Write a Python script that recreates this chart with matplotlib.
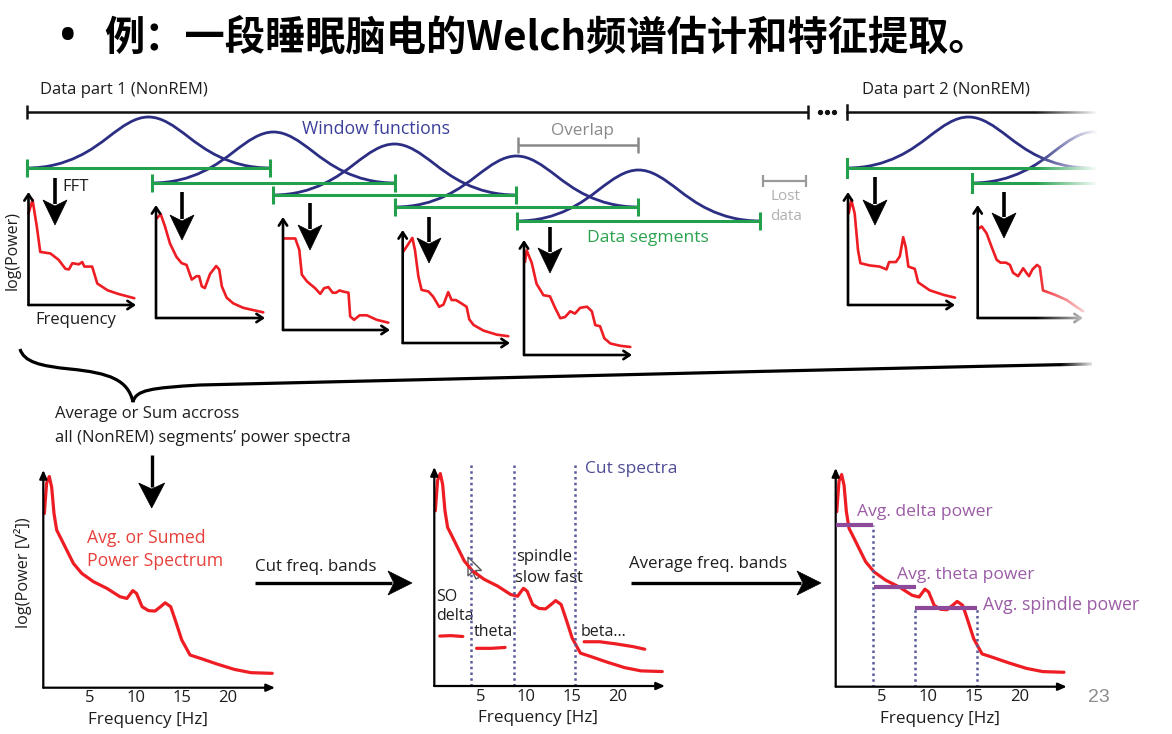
import numpy as np
import matplotlib
matplotlib.use("Agg")
import matplotlib.pyplot as plt
from matplotlib.path import Path
from matplotlib.patches import PathPatch, Polygon

W, H = 1172, 734

# ------------------------------------------------------------------ data
title_text = "例：一段睡眠脑电的Welch频谱估计和特征提取。"

# single-segment spectra (frequency in Hz, relative log power 0..1)
seg1_freq = [0.0, 0.94, 1.95, 2.73, 5.1, 7.0, 8.6, 9.4, 10.2, 11.7, 12.5, 13.0, 14.8, 16.0, 18.4, 20.7, 24.6]
seg1_pow = [0.81, 0.93, 0.69, 0.47, 0.456, 0.40, 0.32, 0.315, 0.37, 0.36, 0.38, 0.34, 0.34, 0.19, 0.13, 0.10, 0.06]

seg2_freq = [0.15, 1.07, 2.06, 3.2, 4.7, 5.9, 7.0, 8.2, 9.3, 9.9, 10.5, 11.2, 12.4, 13.8, 14.5, 15.1, 16.2, 17.7, 20.0, 24.6]
seg2_pow = [0.88, 0.92, 0.81, 0.66, 0.54, 0.485, 0.47, 0.34, 0.37, 0.37, 0.28, 0.265, 0.39, 0.46, 0.43, 0.28, 0.18, 0.13, 0.09, 0.05]

seg3_freq = [0.08, 2.87, 3.8, 4.4, 5.6, 7.5, 8.7, 9.6, 10.6, 11.6, 12.4, 13.2, 14.1, 15.3, 15.7, 16.6, 17.9, 19.6, 21.9, 24.6]
seg3_pow = [0.81, 0.81, 0.71, 0.49, 0.43, 0.37, 0.32, 0.37, 0.38, 0.33, 0.33, 0.35, 0.34, 0.33, 0.12, 0.09, 0.13, 0.13, 0.09, 0.065]

seg4_freq = [0.16, 2.25, 2.87, 3.65, 4.4, 6.0, 7.1, 8.5, 9.5, 10.6, 11.4, 12.4, 13.7, 14.9, 15.5, 16.5, 18.8, 21.9, 24.6]
seg4_pow = [0.81, 0.93, 0.82, 0.59, 0.47, 0.456, 0.41, 0.32, 0.34, 0.45, 0.38, 0.38, 0.35, 0.32, 0.21, 0.16, 0.11, 0.074, 0.06]

seg5_freq = [0.23, 0.62, 1.8, 2.9, 4.5, 6.0, 7.2, 8.4, 9.5, 10.7, 11.8, 13.0, 14.6, 15.7, 16.5, 17.6, 18.6, 20.0, 22.3, 24.6]
seg5_pow = [0.81, 0.91, 0.80, 0.62, 0.52, 0.51, 0.41, 0.32, 0.33, 0.38, 0.36, 0.41, 0.42, 0.38, 0.26, 0.25, 0.145, 0.10, 0.08, 0.07]

seg6_freq = [0.16, 0.78, 1.56, 2.34, 2.9, 5.1, 7.4, 9.0, 9.6, 11.2, 12.1, 12.9, 13.5, 14.1, 15.6, 16.4, 19.1, 22.3, 25.0]
seg6_pow = [0.81, 0.93, 0.81, 0.485, 0.37, 0.35, 0.34, 0.315, 0.38, 0.38, 0.43, 0.60, 0.51, 0.34, 0.32, 0.20, 0.13, 0.09, 0.065]

seg7_freq = [0.16, 0.95, 2.1, 3.3, 4.5, 5.4, 6.7, 7.65, 8.4, 9.6, 10.8, 11.75, 12.2, 13.0, 14.1, 14.75, 15.5, 18.3, 21.1, 23.4, 25.0]
seg7_pow = [0.79, 0.81, 0.75, 0.63, 0.515, 0.49, 0.49, 0.47, 0.40, 0.37, 0.44, 0.39, 0.37, 0.43, 0.47, 0.45, 0.244, 0.206, 0.16, 0.10, 0.06]

# averaged spectrum
avg_freq = [0.11, 0.36, 0.65, 0.91, 1.16, 1.45, 2.0, 2.54, 3.26, 4.17, 5.43, 6.9, 8.3, 9.06, 9.7, 10.1,
            10.7, 11.4, 12.1, 12.7, 13.2, 13.8, 14.3, 15.0, 15.9, 17.0, 18.8, 20.7, 22.5, 24.8]
avg_pow = [0.80, 0.94, 0.97, 0.92, 0.80, 0.724, 0.678, 0.632, 0.571, 0.525, 0.487, 0.456, 0.418, 0.41, 0.446, 0.433,
           0.372, 0.354, 0.352, 0.372, 0.39, 0.372, 0.31, 0.219, 0.15, 0.135, 0.109, 0.084, 0.069, 0.066]

freq_ticks = [5, 10, 15, 20]
band_edges = [4.0, 8.65, 15.3]

# hand-drawn band marks in the "cut" panel
delta_mark_f, delta_mark_p = [0.6, 1.8, 3.1], [0.228, 0.23, 0.226]
theta_mark_f, theta_mark_p = [4.6, 6.2, 7.7], [0.172, 0.172, 0.176]
beta_mark_f, beta_mark_p = [16.3, 18.0, 19.8, 21.6, 22.9], [0.202, 0.202, 0.192, 0.180, 0.168]

# averaged band powers (relative log power)
band_avg_names = ["delta", "theta", "spindle"]
band_avg_lo = [0.0, 4.2, 8.65]
band_avg_hi = [4.0, 8.75, 15.3]
band_avg_pow = [0.74, 0.457, 0.36]

# ------------------------------------------------------------------ style
FONT = ['Open Sans', 'DejaVu Sans']
CJK = ['Noto Sans CJK SC', 'DejaVu Sans']
RED = '#ee1d23'
NAVY = '#2b2e83'
GREEN = '#22a04b'
TXT = '#1e1e1e'
DOT = '#5a5a9c'
PURPLE_BAR = '#8e4a9a'
PURPLE_TXT = '#9b5ca6'

fig = plt.figure(figsize=(W / 100, H / 100), dpi=100)
ax = fig.add_axes([0, 0, 1, 1])
ax.set_xlim(0, W)
ax.set_ylim(H, 0)
ax.axis('off')


def txt(x, y, s, size=12, color=TXT, ha='left', va='center', **kw):
    ax.text(x, y, s, fontsize=size, color=color, ha=ha, va=va, family=kw.pop('family', FONT), **kw)


def bracket(x0, x1, y, color, lw, tick):
    ax.plot([x0, x1], [y, y], color=color, lw=lw, solid_capstyle='butt')
    for xx in (x0, x1):
        ax.plot([xx, xx], [y - tick, y + tick], color=color, lw=lw, solid_capstyle='butt')


def down_arrow(x, y0, y1, hw=12, hl=25, lw=2.6):
    ax.plot([x, x], [y0, y1 - hl + 4], color='k', lw=lw, solid_capstyle='butt')
    ax.add_patch(Polygon([[x - hw, y1 - hl], [x, y1 - hl + 6], [x + hw, y1 - hl], [x, y1]],
                         closed=True, facecolor='k', edgecolor='k', lw=0.5))


def right_arrow(x0, x1, y, hw=12, hl=24, lw=2.4):
    ax.plot([x0, x1 - hl + 4], [y, y], color='k', lw=lw, solid_capstyle='butt')
    ax.add_patch(Polygon([[x1 - hl, y - hw], [x1 - hl + 6, y], [x1 - hl, y + hw], [x1, y]],
                         closed=True, facecolor='k', edgecolor='k', lw=0.5))


# bell-shaped window glyph (cubic Bezier, normalized)
BELL = [(0, 0), (0.17, 0), (0.275, 0.387), (0.335, 0.607), (0.395, 0.827), (0.445, 1.0), (0.5, 1.0),
        (0.555, 1.0), (0.605, 0.827), (0.665, 0.607), (0.725, 0.387), (0.83, 0), (1, 0)]
BELL_CODES = [Path.MOVETO] + [Path.CURVE4] * 12


def window(x0, base, width=243, height=51):
    verts = [(x0 + t * width, base - h * height) for t, h in BELL]
    ax.add_patch(PathPatch(Path(verts, BELL_CODES), facecolor='none', edgecolor=NAVY, lw=2.0))


# ------------------------------------------------------------------ title
ax.text(68, 39, '•', fontsize=30, fontweight='bold', ha='center', va='center', family=FONT, color='black')
ax.text(104, 38, title_text, fontsize=29, fontweight='heavy', family=CJK, ha='left', va='center', color='black')

# ------------------------------------------------------------------ top row
txt(40, 90, 'Data part 1 (NonREM)')
txt(862, 90, 'Data part 2 (NonREM)')
bracket(27, 808, 112, '#111111', 1.8, 7)
ax.plot([847, 1098], [112, 112], color='#111111', lw=1.8)
ax.plot([847, 847], [105, 119], color='#111111', lw=1.8)
ax.plot([820, 827, 834], [112, 112, 112], 'o', color='#111111', ms=2.8)

seg_starts = [27, 152, 273, 395, 517]
seg_bases = [168, 183, 195, 207, 221]
for x0, b in zip(seg_starts, seg_bases):
    window(x0, b)
    bracket(x0, x0 + 243, b, GREEN, 2.2, 9)

window(847, 168)
window(972, 183)
ax.plot([847, 1098], [168, 168], color=GREEN, lw=2.2)
ax.plot([847, 847], [159, 177], color=GREEN, lw=2.2)
ax.plot([972, 1098], [183, 183], color=GREEN, lw=2.2)
ax.plot([972, 972], [174, 192], color=GREEN, lw=2.2)

txt(302, 129, 'Window functions', 12.7, color='#3b3f9a')
bracket(518, 638, 145, '#8a8a8a', 1.8, 8)
txt(582, 131, 'Overlap', 12.3, color='#8a8a8a', ha='center')
bracket(763, 806, 181, '#9a9a9a', 1.6, 6)
txt(786, 196, 'Lost', 11, color='#b0b0b0', ha='center')
txt(786, 217, 'data', 11, color='#b0b0b0', ha='center')
txt(587, 238, 'Data segments', 12.6, color='#2ca24f')
txt(62, 187, 'FFT', 12)

for x, y0, y1 in [(55, 178, 225), (182, 192, 240), (310, 203, 250), (429, 217, 263),
                  (550, 227, 273), (875, 177, 225), (1004, 192, 238)]:
    down_arrow(x, y0, y1)


def small_spec(box, freq, powr):
    left, top, right, bottom = box
    a = fig.add_axes([left / W, 1 - bottom / H, (right - left) / W, (bottom - top) / H])
    a.set_xlim(0, 25)
    a.set_ylim(0, 1)
    a.axis('off')
    a.plot(freq, powr, color=RED, lw=1.9, solid_joinstyle='round', solid_capstyle='round', clip_on=False)
    ap = dict(arrowstyle='->,head_length=0.45,head_width=0.3', lw=1.9, color='k', shrinkA=0, shrinkB=0)
    a.annotate('', xy=(1, 0), xytext=(0, 0), xycoords='axes fraction', arrowprops=ap)
    a.annotate('', xy=(0, 1), xytext=(0, 0), xycoords='axes fraction', arrowprops=ap)
    return a


small_spec((28.5, 192, 136, 305), seg1_freq, seg1_pow)
small_spec((156, 205, 265, 318), seg2_freq, seg2_pow)
small_spec((283, 217, 390, 330), seg3_freq, seg3_pow)
small_spec((402.7, 230, 510, 343), seg4_freq, seg4_pow)
small_spec((524, 240, 632, 355), seg5_freq, seg5_pow)
small_spec((848, 192, 955, 305), seg6_freq, seg6_pow)
small_spec((977.7, 205, 1083, 318), seg7_freq, seg7_pow)

txt(13, 250, 'log(Power)', 11.5, ha='center', rotation=90)
txt(35, 320, 'Frequency', 12)

# ------------------------------------------------------------------ brace
brace_v = [(20, 349), (24, 362), (40, 366), (70, 369),
           (110, 373), (128, 380), (133, 402),
           (136, 390), (150, 388), (200, 385),
           (500, 378), (800, 370), (1092, 364)]
brace_c = [Path.MOVETO] + [Path.CURVE4] * 12
ax.add_patch(PathPatch(Path(brace_v, brace_c), facecolor='none', edgecolor='k', lw=2.3))

txt(55, 414, 'Average or Sum accross', 12)
txt(55, 438, 'all (NonREM) segments\u2019 power spectra', 12)
down_arrow(151.7, 455, 508, hw=13, hl=25, lw=2.4)


# ------------------------------------------------------------------ bottom row
def big_spec(box):
    left, top, right, bottom = box
    a = fig.add_axes([left / W, 1 - bottom / H, (right - left) / W, (bottom - top) / H])
    a.set_xlim(0, 25.1)
    a.set_ylim(0, 1)
    for s in a.spines.values():
        s.set_visible(False)
    a.patch.set_visible(False)
    a.set_xticks(freq_ticks)
    a.set_xticklabels([str(t) for t in freq_ticks], fontsize=12, family=FONT, color=TXT)
    a.tick_params(axis='x', length=0, pad=2)
    a.set_yticks([])
    ap = dict(arrowstyle='-|>,head_length=0.5,head_width=0.22', lw=1.6, color='k', shrinkA=0, shrinkB=0)
    a.annotate('', xy=(1, 0), xytext=(0, 0), xycoords='axes fraction', arrowprops=ap)
    a.annotate('', xy=(0, 1), xytext=(0, 0), xycoords='axes fraction', arrowprops=ap)
    a.plot(avg_freq, avg_pow, color=RED, lw=2.3, solid_joinstyle='round', solid_capstyle='round', clip_on=False)
    a.text(0.45, -0.148, 'Frequency [Hz]', transform=a.transAxes, ha='center', va='center',
           fontsize=12.3, family=FONT, color=TXT)
    return a


axA = big_spec((43.3, 470, 275, 687.7))
axA.text(-0.088, 0.527, 'log(Power [V\u00b2])', transform=axA.transAxes, rotation=90,
         ha='center', va='center', fontsize=11.7, family=FONT, color=TXT)
txt(87, 538, 'Avg. or Sumed', 12.7, color='#e8413c')
txt(87, 561, 'Power Spectrum', 12.7, color='#e8413c')

txt(255, 567, 'Cut freq. bands', 12.2)
right_arrow(255, 412, 583)

axB = big_spec((434.3, 467, 665, 686))
for f in band_edges:
    axB.plot([f, f], [0, 1.01], color=DOT, lw=1.8, linestyle=(0, (1.0, 1.3)), clip_on=False)
for fr, pw in [(delta_mark_f, delta_mark_p), (theta_mark_f, theta_mark_p), (beta_mark_f, beta_mark_p)]:
    axB.plot(fr, pw, color=RED, lw=2.3, solid_capstyle='round')
txt(585, 469, 'Cut spectra', 12.5, color='#4d4d95')
txt(516, 557, 'spindle', 12)
txt(515, 578, 'slow fast', 12)
txt(436, 597, 'SO', 11.5)
txt(436, 616, 'delta', 11.5)
txt(474, 632, 'theta', 11.5)
txt(581, 632, 'beta...', 11.5)
# mouse cursor
cur = np.array([(0, 0), (0, 19), (4.5, 14.5), (8, 22), (11, 20.5), (7.5, 13.5), (13.5, 13.5)])
ax.add_patch(Polygon(cur + [468, 557], closed=True, facecolor='white', edgecolor='#555555', lw=1.0, zorder=5))

txt(629, 564, 'Average freq. bands', 12.2)
right_arrow(631, 821, 583)

axC = big_spec((835.7, 468, 1066.7, 686.7))
for lo, hi, p in zip(band_avg_lo, band_avg_hi, band_avg_pow):
    axC.plot([lo, hi], [p, p], color=PURPLE_BAR, lw=3.0, solid_capstyle='butt', zorder=3)
for f, p in zip(band_edges, [band_avg_pow[0], band_avg_pow[2], band_avg_pow[2]]):
    axC.plot([f, f], [0, p], color=DOT, lw=1.8, linestyle=(0, (1.0, 1.3)))
txt(857, 512, 'Avg. delta power', 12.6, color=PURPLE_TXT)
txt(897, 575, 'Avg. theta power', 12.6, color=PURPLE_TXT)
txt(983, 605, 'Avg. spindle power', 12.8, color=PURPLE_TXT)

ax.text(1088, 697, '23', fontsize=14, color='#8c8c8c', ha='left', va='center', family=['Liberation Sans'])

# ------------------------------------------------------------------ fade-out overlay
ov = fig.add_axes([0, 0, 1, 1])
ov.set_xlim(0, W)
ov.set_ylim(H, 0)
ov.axis('off')
ov.patch.set_alpha(0)
grad = np.ones((1, 256, 4))
grad[..., 3] = np.linspace(0, 1, 256)
ov.imshow(grad, extent=[1035, 1098, 340, 95], aspect='auto', interpolation='bilinear', zorder=10)
ov.imshow(grad, extent=[1060, 1096, 375, 352], aspect='auto', interpolation='bilinear', zorder=10)
ov.add_patch(plt.Rectangle((1097, 90), 80, 290, facecolor='white', edgecolor='none', zorder=11))
ov.set_xlim(0, W)
ov.set_ylim(H, 0)

fig.savefig('out.png', dpi=100, facecolor='white')
